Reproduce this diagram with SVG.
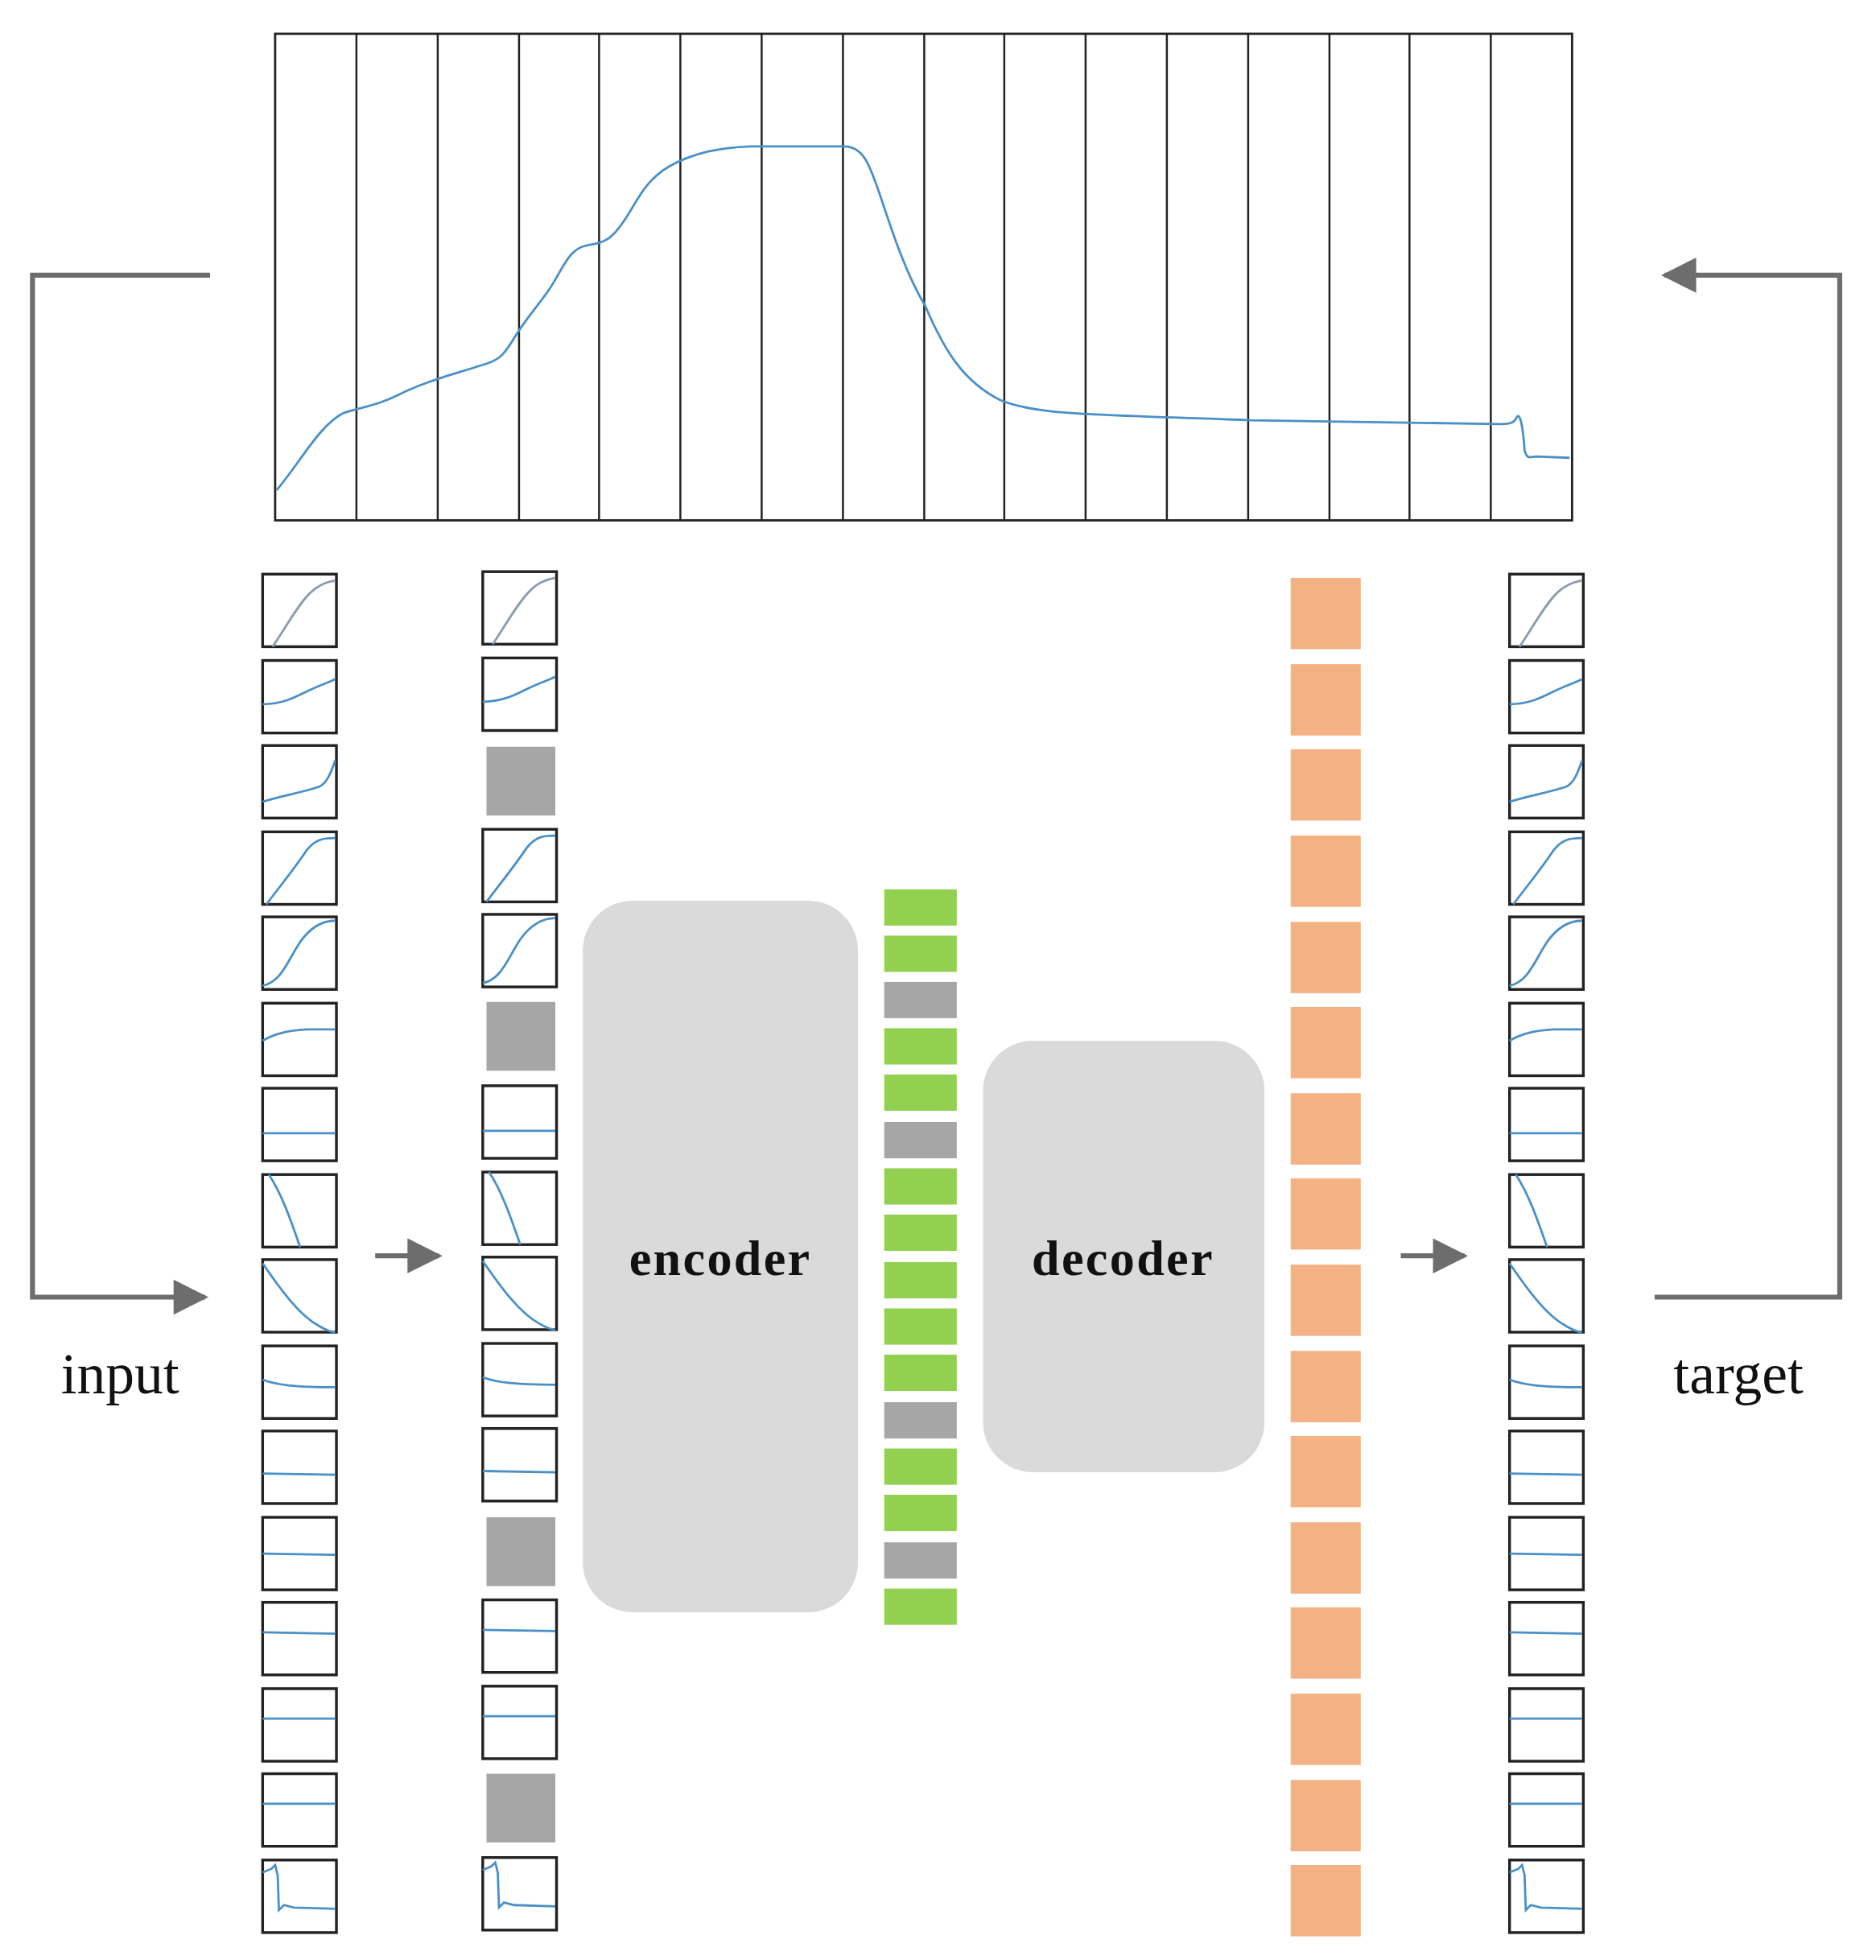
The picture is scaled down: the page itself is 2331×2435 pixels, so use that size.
<svg xmlns="http://www.w3.org/2000/svg" xmlns:xlink="http://www.w3.org/1999/xlink" width="2331" height="2435" viewBox="0 0 2331 2435">
<style>
.bx{fill:#fff;stroke:#222;stroke-width:2.2}
.cv{fill:none;stroke:#4a90c8;stroke-width:1.8}
.gr{fill:#a6a6a6}
.gn{fill:#92d050}
.or{fill:#f4b183}
.blk{fill:#dadada}
.con{fill:none;stroke:#6d6d6d;stroke-width:4}
.lbl{font-family:"Liberation Serif",serif;font-size:46px;fill:#111;text-anchor:middle}
.bold{font-family:"Liberation Serif",serif;font-size:40px;font-weight:bold;fill:#111;text-anchor:middle;letter-spacing:1.5px}
.vl{stroke:#222;stroke-width:1.6}
</style>
<defs>
<marker id="ah" viewBox="0 0 10 10" refX="9" refY="5" markerWidth="7.5" markerHeight="7" orient="auto" markerUnits="strokeWidth"><path d="M0,0L10,5L0,10z" fill="#6d6d6d"/></marker>
<path id="c0" d="M8,58 C20,40 28,25 38,15 C45,8 52,6 58,5" fill="none" stroke="#8a9bb0" stroke-width="1.8"/>
<path id="c1" class="cv" d="M0,35 C15,35 25,30 35,25 C45,20 52,18 58,15"/>
<path id="c2" class="cv" d="M0,45 C15,40 30,38 45,33 C52,30 55,20 58,12"/>
<path id="c3" class="cv" d="M3,58 C15,42 25,30 35,15 C42,6 48,5 58,5"/>
<path id="c4" class="cv" d="M0,55 C15,52 20,35 30,20 C40,6 50,3 58,3"/>
<path id="c5" class="cv" d="M0,30 C10,24 20,22 35,21 L58,21"/>
<path id="c6" class="cv" d="M0,36 L58,36"/>
<path id="c7" class="cv" d="M5,0 C15,15 22,35 30,58"/>
<path id="c8" class="cv" d="M0,3 C15,25 30,45 45,53 C50,56 55,58 58,58"/>
<path id="c9" class="cv" d="M0,27 C10,31 25,33 58,33"/>
<path id="c10" class="cv" d="M0,34 L58,35"/>
<path id="c11" class="cv" d="M0,29 L58,30"/>
<path id="c12" class="cv" d="M0,24 L58,25"/>
<path id="c13" class="cv" d="M0,24 L58,24"/>
<path id="c14" class="cv" d="M0,24 L58,24"/>
<path id="c15" class="cv" d="M0,10 L7,7 L10,4 L12,12 L13,40 L17,36 L25,38 L58,39"/>
</defs>
<rect width="2331" height="2435" fill="#fff"/>
<g transform="scale(1.554)">
<g id="chart">
<rect x="220" y="27" width="1037" height="389" fill="#fff" stroke="#222" stroke-width="1.8"/>
<g class="vl">
<line x1="285" y1="27" x2="285" y2="416"/><line x1="350" y1="27" x2="350" y2="416"/><line x1="415" y1="27" x2="415" y2="416"/><line x1="479" y1="27" x2="479" y2="416"/><line x1="544" y1="27" x2="544" y2="416"/><line x1="609" y1="27" x2="609" y2="416"/><line x1="674" y1="27" x2="674" y2="416"/><line x1="739" y1="27" x2="739" y2="416"/><line x1="803" y1="27" x2="803" y2="416"/><line x1="868" y1="27" x2="868" y2="416"/><line x1="933" y1="27" x2="933" y2="416"/><line x1="998" y1="27" x2="998" y2="416"/><line x1="1063" y1="27" x2="1063" y2="416"/><line x1="1127" y1="27" x2="1127" y2="416"/><line x1="1192" y1="27" x2="1192" y2="416"/>
</g>
<path class="cv" d="M221,392 C240,370 255,340 275,330 C290,325 300,325 320,315 C340,305 360,300 385,292 C400,288 403,283 410,272 C420,255 430,245 440,230 C450,215 455,198 470,196 C485,194 490,190 500,175 C510,160 515,145 535,133 C555,122 575,118 600,117 L675,117 C690,117 695,130 705,160 C715,190 725,220 740,245 C755,280 770,305 800,320 C830,332 870,331 1000,336 L1200,339 C1208,339 1211,338 1213,333 C1216,330 1218,345 1219,360 C1221,368 1224,365 1228,365 L1255,366"/>
</g>
<g id="connectors">
<path class="con" d="M168,220 L26,220 L26,1037 L164,1037" marker-end="url(#ah)"/>
<path class="con" d="M1323,1037 L1471,1037 L1471,220 L1331,220" marker-end="url(#ah)"/>
<path class="con" d="M300,1004 L351,1004" marker-end="url(#ah)"/>
<path class="con" d="M1120,1004 L1171,1004" marker-end="url(#ah)"/>
</g>
<g id="input-col">
<g transform="translate(210,459)"><rect class="bx" width="59" height="58"/><use xlink:href="#c0"/></g>
<g transform="translate(210,528)"><rect class="bx" width="59" height="58"/><use xlink:href="#c1"/></g>
<g transform="translate(210,596)"><rect class="bx" width="59" height="58"/><use xlink:href="#c2"/></g>
<g transform="translate(210,665)"><rect class="bx" width="59" height="58"/><use xlink:href="#c3"/></g>
<g transform="translate(210,733)"><rect class="bx" width="59" height="58"/><use xlink:href="#c4"/></g>
<g transform="translate(210,802)"><rect class="bx" width="59" height="58"/><use xlink:href="#c5"/></g>
<g transform="translate(210,870)"><rect class="bx" width="59" height="58"/><use xlink:href="#c6"/></g>
<g transform="translate(210,939)"><rect class="bx" width="59" height="58"/><use xlink:href="#c7"/></g>
<g transform="translate(210,1007)"><rect class="bx" width="59" height="58"/><use xlink:href="#c8"/></g>
<g transform="translate(210,1076)"><rect class="bx" width="59" height="58"/><use xlink:href="#c9"/></g>
<g transform="translate(210,1144)"><rect class="bx" width="59" height="58"/><use xlink:href="#c10"/></g>
<g transform="translate(210,1213)"><rect class="bx" width="59" height="58"/><use xlink:href="#c11"/></g>
<g transform="translate(210,1281)"><rect class="bx" width="59" height="58"/><use xlink:href="#c12"/></g>
<g transform="translate(210,1350)"><rect class="bx" width="59" height="58"/><use xlink:href="#c13"/></g>
<g transform="translate(210,1418)"><rect class="bx" width="59" height="58"/><use xlink:href="#c14"/></g>
<g transform="translate(210,1487)"><rect class="bx" width="59" height="58"/><use xlink:href="#c15"/></g>
</g>
<g id="masked-col">
<g transform="translate(386,457)"><rect class="bx" width="59" height="58"/><use xlink:href="#c0"/></g>
<g transform="translate(386,526)"><rect class="bx" width="59" height="58"/><use xlink:href="#c1"/></g>
<rect class="gr" x="389" y="597" width="55" height="55"/>
<g transform="translate(386,663)"><rect class="bx" width="59" height="58"/><use xlink:href="#c3"/></g>
<g transform="translate(386,731)"><rect class="bx" width="59" height="58"/><use xlink:href="#c4"/></g>
<rect class="gr" x="389" y="801" width="55" height="55"/>
<g transform="translate(386,868)"><rect class="bx" width="59" height="58"/><use xlink:href="#c6"/></g>
<g transform="translate(386,937)"><rect class="bx" width="59" height="58"/><use xlink:href="#c7"/></g>
<g transform="translate(386,1005)"><rect class="bx" width="59" height="58"/><use xlink:href="#c8"/></g>
<g transform="translate(386,1074)"><rect class="bx" width="59" height="58"/><use xlink:href="#c9"/></g>
<g transform="translate(386,1142)"><rect class="bx" width="59" height="58"/><use xlink:href="#c10"/></g>
<rect class="gr" x="389" y="1213" width="55" height="55"/>
<g transform="translate(386,1279)"><rect class="bx" width="59" height="58"/><use xlink:href="#c12"/></g>
<g transform="translate(386,1348)"><rect class="bx" width="59" height="58"/><use xlink:href="#c13"/></g>
<rect class="gr" x="389" y="1418" width="55" height="55"/>
<g transform="translate(386,1485)"><rect class="bx" width="59" height="58"/><use xlink:href="#c15"/></g>
</g>
<g id="encoder"><rect class="blk" x="466" y="720" width="220" height="569" rx="40"/><text class="bold" x="576" y="1019">encoder</text></g>
<g id="latent">
<rect class="gn" x="707" y="711" width="58" height="29"/>
<rect class="gn" x="707" y="748" width="58" height="29"/>
<rect class="gr" x="707" y="785" width="58" height="29"/>
<rect class="gn" x="707" y="822" width="58" height="29"/>
<rect class="gn" x="707" y="859" width="58" height="29"/>
<rect class="gr" x="707" y="897" width="58" height="29"/>
<rect class="gn" x="707" y="934" width="58" height="29"/>
<rect class="gn" x="707" y="971" width="58" height="29"/>
<rect class="gn" x="707" y="1009" width="58" height="29"/>
<rect class="gn" x="707" y="1046" width="58" height="29"/>
<rect class="gn" x="707" y="1083" width="58" height="29"/>
<rect class="gr" x="707" y="1121" width="58" height="29"/>
<rect class="gn" x="707" y="1158" width="58" height="29"/>
<rect class="gn" x="707" y="1195" width="58" height="29"/>
<rect class="gr" x="707" y="1233" width="58" height="29"/>
<rect class="gn" x="707" y="1270" width="58" height="29"/>
</g>
<g id="decoder"><rect class="blk" x="786" y="832" width="225" height="345" rx="40"/><text class="bold" x="898" y="1019">decoder</text></g>
<g id="output">
<rect class="or" x="1032" y="462" width="56" height="57"/>
<rect class="or" x="1032" y="531" width="56" height="57"/>
<rect class="or" x="1032" y="599" width="56" height="57"/>
<rect class="or" x="1032" y="668" width="56" height="57"/>
<rect class="or" x="1032" y="737" width="56" height="57"/>
<rect class="or" x="1032" y="805" width="56" height="57"/>
<rect class="or" x="1032" y="874" width="56" height="57"/>
<rect class="or" x="1032" y="942" width="56" height="57"/>
<rect class="or" x="1032" y="1011" width="56" height="57"/>
<rect class="or" x="1032" y="1080" width="56" height="57"/>
<rect class="or" x="1032" y="1148" width="56" height="57"/>
<rect class="or" x="1032" y="1217" width="56" height="57"/>
<rect class="or" x="1032" y="1285" width="56" height="57"/>
<rect class="or" x="1032" y="1354" width="56" height="57"/>
<rect class="or" x="1032" y="1423" width="56" height="57"/>
<rect class="or" x="1032" y="1491" width="56" height="57"/>
</g>
<g id="target-col">
<g transform="translate(1207,459)"><rect class="bx" width="59" height="58"/><use xlink:href="#c0"/></g>
<g transform="translate(1207,528)"><rect class="bx" width="59" height="58"/><use xlink:href="#c1"/></g>
<g transform="translate(1207,596)"><rect class="bx" width="59" height="58"/><use xlink:href="#c2"/></g>
<g transform="translate(1207,665)"><rect class="bx" width="59" height="58"/><use xlink:href="#c3"/></g>
<g transform="translate(1207,733)"><rect class="bx" width="59" height="58"/><use xlink:href="#c4"/></g>
<g transform="translate(1207,802)"><rect class="bx" width="59" height="58"/><use xlink:href="#c5"/></g>
<g transform="translate(1207,870)"><rect class="bx" width="59" height="58"/><use xlink:href="#c6"/></g>
<g transform="translate(1207,939)"><rect class="bx" width="59" height="58"/><use xlink:href="#c7"/></g>
<g transform="translate(1207,1007)"><rect class="bx" width="59" height="58"/><use xlink:href="#c8"/></g>
<g transform="translate(1207,1076)"><rect class="bx" width="59" height="58"/><use xlink:href="#c9"/></g>
<g transform="translate(1207,1144)"><rect class="bx" width="59" height="58"/><use xlink:href="#c10"/></g>
<g transform="translate(1207,1213)"><rect class="bx" width="59" height="58"/><use xlink:href="#c11"/></g>
<g transform="translate(1207,1281)"><rect class="bx" width="59" height="58"/><use xlink:href="#c12"/></g>
<g transform="translate(1207,1350)"><rect class="bx" width="59" height="58"/><use xlink:href="#c13"/></g>
<g transform="translate(1207,1418)"><rect class="bx" width="59" height="58"/><use xlink:href="#c14"/></g>
<g transform="translate(1207,1487)"><rect class="bx" width="59" height="58"/><use xlink:href="#c15"/></g>
</g>
<g id="labels">
<text class="lbl" x="96" y="1114">input</text>
<text class="lbl" x="1390" y="1114">target</text>
</g>
</g>
</svg>
